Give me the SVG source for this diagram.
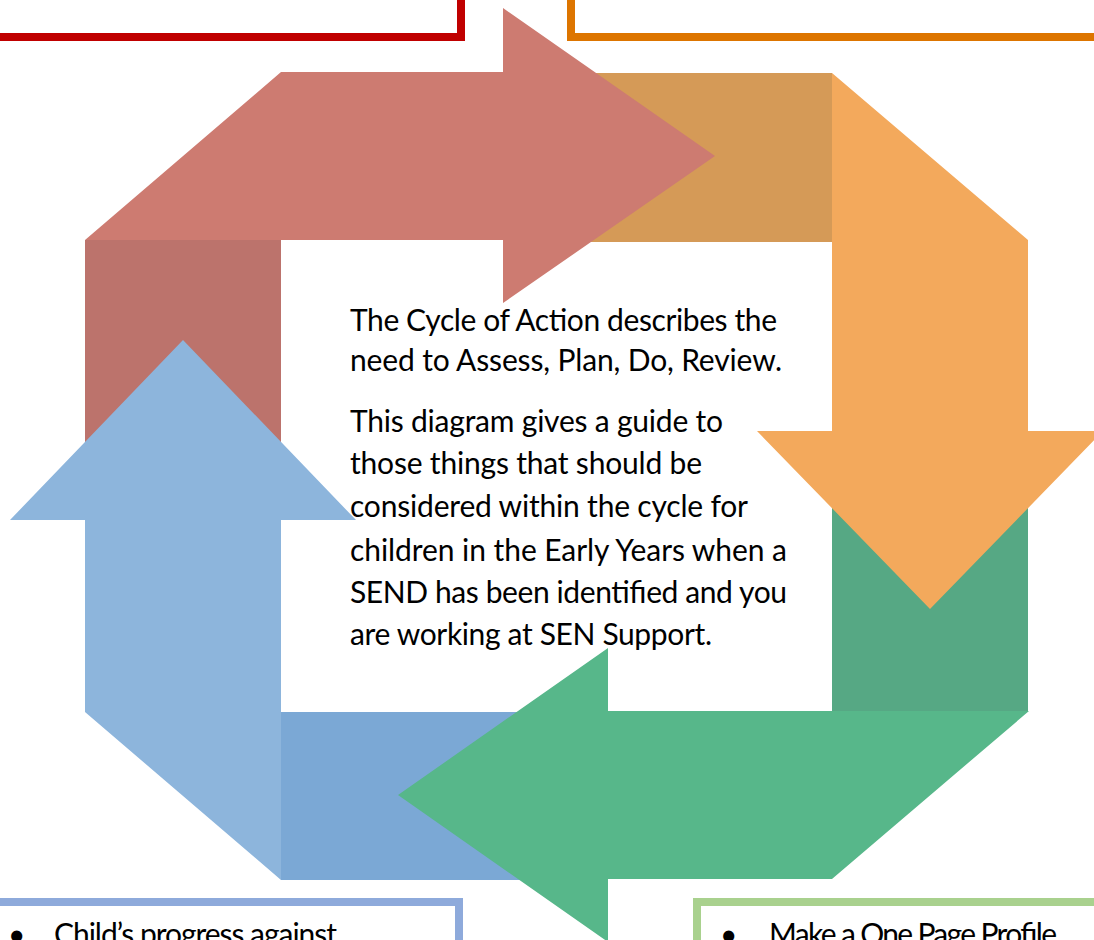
<svg xmlns="http://www.w3.org/2000/svg" width="1094" height="940" viewBox="0 0 1094 940">
<style>
.box{fill:none;stroke-width:8}
.t{font-family:Lato,"Open Sans","Liberation Sans",sans-serif;font-size:30px;fill:#000}
</style>
<rect width="1094" height="940" fill="#fff"/>
<g id="box-red"><rect class="box" x="-20" y="-30" width="481" height="67" stroke="#C00000"/></g>
<g id="box-orange"><rect class="box" x="571" y="-30" width="560" height="67" stroke="#DD7500"/></g>
<g id="connectors">
  <rect x="85" y="240" width="196" height="260" fill="#BC736C"/>
  <rect x="560" y="73" width="272" height="169" fill="#D59A57"/>
  <rect x="832" y="430" width="196" height="281" fill="#56A884"/>
  <rect x="281" y="712" width="280" height="168" fill="#7BA8D5"/>
</g>
<g id="arrow-red"><polygon points="85,240 281,72 503,72 503,8 715,156 503,303 503,240" fill="#CD7B71"/></g>
<g id="arrow-orange"><polygon points="832,73 1028,240 1028,431 1103,431 930,609 757,431 832,431" fill="#F3A95C"/></g>
<g id="arrow-green"><polygon points="1029,711 832,879 608,879 608,942 398,795 608,648 608,711" fill="#57B78A"/></g>
<g id="arrow-blue"><polygon points="85,712 281,880 281,520 356,520 183,340 10,520 85,520" fill="#8DB5DC"/></g>
<g id="center-text">
  <text class="t" x="350" y="331" textLength="427">The Cycle of Action describes the</text>
  <text class="t" x="350" y="371" textLength="432">need to Assess, Plan, Do, Review.</text>
  <text class="t" x="350" y="432" textLength="373">This diagram gives a guide to</text>
  <text class="t" x="350" y="474" textLength="352">those things that should be</text>
  <text class="t" x="350" y="517" textLength="398">considered within the cycle for</text>
  <text class="t" x="350" y="561" textLength="437">children in the Early Years when a</text>
  <text class="t" x="350" y="603" textLength="437">SEND has been identified and you</text>
  <text class="t" x="350" y="645" textLength="362">are working at SEN Support.</text>
</g>
<g id="box-blue">
  <rect class="box" x="-20" y="902" width="479" height="80" stroke="#8EAADB"/>
  <text class="t" x="8" y="945">•</text>
  <text class="t" x="54" y="945" textLength="283">Child’s progress against</text>
</g>
<g id="box-green">
  <rect class="box" x="697" y="902" width="420" height="80" stroke="#A9D18E"/>
  <text class="t" x="720" y="945">•</text>
  <text class="t" x="769" y="945" textLength="288">Make a One Page Profile</text>
</g>
</svg>
